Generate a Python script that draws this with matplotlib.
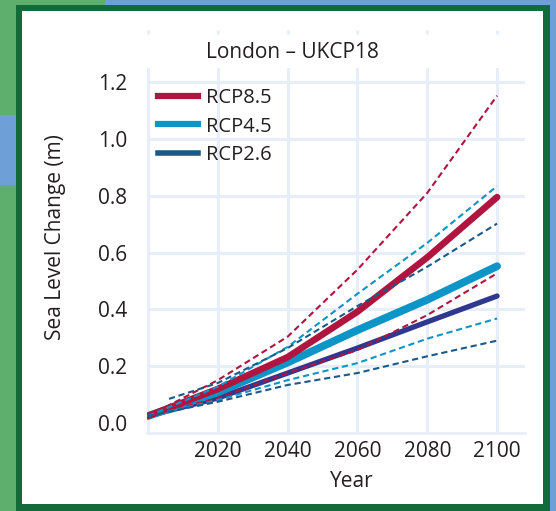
import matplotlib
matplotlib.use("Agg")
import matplotlib.pyplot as plt
from matplotlib.patches import Rectangle
from matplotlib.lines import Line2D
import matplotlib.transforms as mtransforms

plt.rcParams['font.family'] = ['Open Sans', 'DejaVu Sans']

# ---------------- data ----------------
years = [2000, 2020, 2040, 2060, 2080, 2100]

rcp85_mid = [0.025, 0.120, 0.232, 0.392, 0.583, 0.795]
rcp45_mid = [0.025, 0.108, 0.213, 0.327, 0.434, 0.552]
rcp26_mid = [0.025, 0.088, 0.176, 0.264, 0.356, 0.447]

rcp85_hi = [0.025, 0.151, 0.304, 0.540, 0.810, 1.152]
rcp85_lo = [0.025, 0.088, 0.176, 0.257, 0.380, 0.527]
rcp45_hi = [0.025, 0.128, 0.268, 0.455, 0.634, 0.834]
rcp45_lo = [0.025, 0.081, 0.151, 0.211, 0.297, 0.368]
years_26hi = [2006, 2020, 2040, 2060, 2080, 2100]
rcp26_hi = [0.085, 0.141, 0.264, 0.412, 0.550, 0.702]
rcp26_lo = [0.025, 0.075, 0.134, 0.176, 0.235, 0.290]

series_labels = ["RCP8.5", "RCP4.5", "RCP2.6"]
x_ticks = [2020, 2040, 2060, 2080, 2100]
x_grid = [2000, 2020, 2040, 2060, 2080, 2100]
y_ticks = [0.0, 0.2, 0.4, 0.6, 0.8, 1.0, 1.2]
y_grid = [0.2, 0.4, 0.6, 0.8, 1.0, 1.2]

# ---------------- style ----------------
C85 = "#B0153F"
C45 = "#0C95C6"
C26 = "#195A8A"
C26_MID = "#30378E"
GRID = "#E8EEF8"
TXT = "#231F20"

W, H = 556, 511
fig = plt.figure(figsize=(W / 100, H / 100), dpi=100)
fig.patch.set_facecolor("#5EAE6E")

def px_rect(x0, y0, x1, y1, color, z):
    fig.patches.append(Rectangle((x0 / W, 1 - y1 / H), (x1 - x0) / W, (y1 - y0) / H,
                                 transform=fig.transFigure, facecolor=color,
                                 edgecolor="none", zorder=z))

# background decoration
px_rect(105, 0, 556, 5, "#6E9FD6", -5)
px_rect(0, 115, 16, 185, "#6E9FD6", -5)
px_rect(550, 0, 556, 511, "#6E9FD6", -5)
# frame
px_rect(16, 5, 550, 511, "#146B3A", -4)
px_rect(22, 11, 543, 504, "white", -3)

ax = fig.add_axes([147 / W, 1 - 433 / H, (525 - 147) / W, (433 - 68) / H])
ax.set_facecolor("none")
ax.set_xlim(1999.7, 2108.0)
ax.set_ylim(-0.035, 1.2495)

for s in ["left", "right", "top"]:
    ax.spines[s].set_visible(False)
ax.spines["bottom"].set_color(GRID)
ax.spines["bottom"].set_linewidth(2)

for yv in y_grid:
    ax.axhline(yv, color=GRID, lw=2.2, zorder=0)
for xv in x_grid:
    ax.axvline(xv, color=GRID, lw=2.2, zorder=0)
# short marks above the plot area
trans = mtransforms.blended_transform_factory(ax.transData, ax.transAxes)
ax.vlines(x_grid, 1.093, 1.105, transform=trans, color=GRID, lw=2.2, clip_on=False)

# thick median lines
ax.plot(years, rcp26_mid, color=C26_MID, lw=3.8, solid_capstyle="round", zorder=3)
ax.plot(years, rcp45_mid, color=C45, lw=5.6, solid_capstyle="round", zorder=3)
ax.plot(years, rcp85_mid, color=C85, lw=4.8, solid_capstyle="round", zorder=3)

# dashed ranges
dash = (3.0, 1.8)
ax.plot(years, rcp85_hi, color=C85, lw=1.5, dashes=dash, zorder=4)
ax.plot(years, rcp85_lo, color=C85, lw=1.5, dashes=dash, zorder=4)
ax.plot(years, rcp45_hi, color=C45, lw=1.5, dashes=dash, zorder=4)
ax.plot(years, rcp45_lo, color=C45, lw=1.5, dashes=dash, zorder=4)
ax.plot(years_26hi, rcp26_hi, color=C26, lw=1.5, dashes=dash, zorder=4)
ax.plot(years, rcp26_lo, color=C26, lw=1.5, dashes=dash, zorder=4)

ax.set_xticks(x_ticks)
ax.set_xticklabels([str(v) for v in x_ticks])
ax.set_yticks(y_ticks)
ax.set_yticklabels([f"{v:.1f}" for v in y_ticks])
ax.tick_params(axis="both", length=0, labelsize=15, colors=TXT)
ax.tick_params(axis="y", pad=14)
ax.tick_params(axis="x", pad=6)

handles = [Line2D([], [], color=C85, lw=4.5),
           Line2D([], [], color=C45, lw=4.5),
           Line2D([], [], color=C26, lw=4.0)]
leg = ax.legend(handles, series_labels, loc="upper left",
                bbox_to_anchor=(0.029, 0.945), borderaxespad=0, borderpad=0,
                frameon=False, fontsize=14.5, handlelength=2.0, handletextpad=0.4,
                labelspacing=0.42, labelcolor=TXT)

fig.text(292 / W, 1 - 53 / H, "London \u2013 UKCP18", ha="center", va="center",
         fontsize=15, color=TXT)
fig.text(55 / W, 1 - 237 / H, "Sea Level Change (m)", ha="center", va="center",
         rotation=90, fontsize=15, color=TXT)
fig.text(352 / W, 1 - 481 / H, "Year", ha="center", va="center",
         fontsize=15, color=TXT)

fig.savefig("out.png", dpi=100, facecolor=fig.get_facecolor())
